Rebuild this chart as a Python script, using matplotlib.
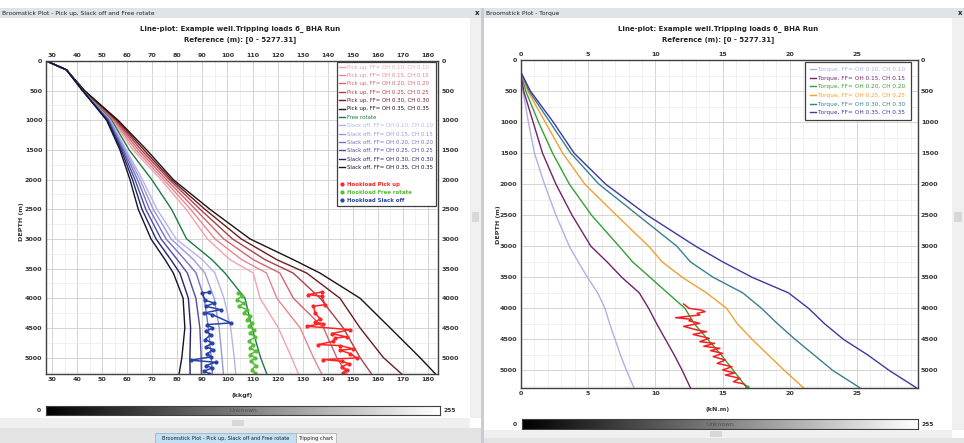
import matplotlib
matplotlib.use('Agg')
import matplotlib.pyplot as plt
import numpy as np
from matplotlib.patches import Rectangle
from matplotlib.lines import Line2D
from matplotlib.ticker import MultipleLocator

# ---------------- data ----------------
depth_model = [0, 150, 500, 1000, 1500, 2000, 2500, 3000, 3350, 3575, 4000, 4500, 5000, 5277]

pickup_010 = [27.8, 35.8, 42.5, 54.2, 62.3, 73.5, 83.5, 92.0, 101.0, 110.3, 113.0, 120.3, 125.6, 128.3]
pickup_015 = [27.8, 35.8, 42.6, 54.6, 63.4, 74.6, 85.3, 95.0, 105.7, 115.6, 119.7, 129.0, 134.3, 137.6]
pickup_020 = [27.8, 35.8, 42.7, 55.0, 64.5, 75.7, 87.2, 98.5, 110.3, 120.9, 126.3, 138.3, 143.6, 147.6]
pickup_025 = [27.8, 35.8, 42.8, 55.5, 65.6, 76.8, 89.1, 102.0, 115.0, 126.2, 137.0, 146.2, 152.9, 157.5]
pickup_030 = [27.8, 35.8, 42.9, 56.0, 66.7, 77.6, 91.0, 105.5, 119.7, 131.6, 144.9, 152.9, 162.2, 169.5]
pickup_035 = [27.8, 35.8, 43.0, 56.4, 67.8, 78.4, 93.0, 109.0, 126.3, 136.9, 152.9, 164.9, 176.8, 183.0]

free_rotate = [27.8, 35.8, 42.3, 53.8, 60.8, 69.8, 77.7, 83.7, 93.8, 99.0, 107.0, 109.8, 113.2, 115.7]

slack_010 = [27.8, 35.8, 42.2, 53.3, 59.6, 66.1, 71.9, 79.5, 90.0, 95.0, 98.6, 101.3, 102.7, 103.3]
slack_015 = [27.8, 35.8, 42.2, 53.0, 59.1, 65.1, 70.4, 77.5, 86.5, 91.0, 94.7, 96.7, 97.8, 98.4]
slack_020 = [27.8, 35.8, 42.2, 52.7, 58.6, 64.1, 68.9, 75.5, 83.0, 87.5, 90.7, 92.4, 93.5, 94.0]
slack_025 = [27.8, 35.8, 42.2, 52.4, 58.1, 63.1, 67.4, 73.5, 80.0, 84.0, 87.4, 89.0, 89.5, 89.6]
slack_030 = [27.8, 35.8, 42.2, 52.1, 57.6, 62.1, 65.9, 71.5, 77.4, 81.0, 84.4, 85.3, 85.0, 85.1]
slack_035 = [27.8, 35.8, 42.2, 51.8, 57.1, 61.1, 64.4, 69.5, 75.1, 78.4, 82.3, 83.0, 81.8, 80.7]

hl_pickup_depth = [3894, 3939, 3967, 4108, 4136, 4248, 4349, 4405, 4427, 4472, 4529, 4596, 4652, 4669,
                   4725, 4781, 4798, 4854, 4876, 4933, 5006, 5034, 5062, 5101, 5157, 5202, 5258]
hl_pickup = [137.6, 132.3, 137.6, 138.9, 134.3, 135.0, 136.9, 135.0, 138.0, 131.6, 148.9, 141.6, 147.6, 142.9,
             142.3, 136.3, 144.9, 150.2, 144.9, 148.9, 151.6, 138.3, 145.6, 148.3, 145.6, 147.6, 146.0]

hl_free_depth = [3911, 3967, 4023, 4080, 4136, 4192, 4248, 4304, 4360, 4416, 4472, 4529, 4585, 4652,
                 4725, 4781, 4837, 4893, 4949, 5006, 5062, 5135, 5202, 5258]
hl_free = [104.4, 105.7, 103.7, 106.4, 104.8, 107.7, 106.4, 109.0, 107.7, 109.7, 108.4, 110.6, 109.0, 111.0,
           108.4, 110.3, 109.0, 111.4, 109.0, 111.0, 109.3, 111.4, 109.7, 111.0]

hl_slack_depth = [3900, 3911, 4035, 4080, 4136, 4192, 4248, 4276, 4416, 4444, 4500, 4557, 4613, 4697,
                  4753, 4820, 4865, 4933, 4989, 5045, 5079, 5135, 5174, 5230, 5269]
hl_slack = [92.7, 89.8, 91.1, 94.7, 91.4, 97.3, 90.7, 94.0, 101.3, 92.0, 94.0, 91.4, 93.3, 91.1,
            94.0, 91.4, 94.3, 92.0, 93.3, 85.4, 95.3, 91.4, 94.0, 90.7, 92.7]

depth_torque = [200, 500, 1000, 1500, 2000, 2500, 3000, 3250, 3500, 3750, 4000, 4250, 4500, 4750, 5000, 5277]
torque_010 = [0.0, 0.15, 0.55, 1.0, 1.75, 2.6, 3.6, 4.25, 4.95, 5.7, 6.25, 6.6, 7.0, 7.4, 7.85, 8.4]
torque_015 = [0.0, 0.2, 0.9, 1.6, 2.6, 3.8, 5.2, 6.4, 7.5, 8.8, 9.5, 10.1, 10.75, 11.4, 12.0, 12.6]
torque_020 = [0.0, 0.35, 1.3, 2.35, 3.6, 5.25, 7.3, 8.3, 9.6, 10.9, 12.2, 12.9, 13.9, 14.9, 15.8, 16.8]
torque_025 = [0.0, 0.5, 1.8, 3.1, 4.75, 7.1, 9.5, 10.5, 12.0, 13.8, 15.3, 16.1, 17.2, 18.4, 19.6, 21.0]
torque_030 = [0.0, 0.6, 2.15, 3.7, 5.8, 8.7, 11.6, 12.6, 14.3, 16.5, 17.9, 19.1, 20.4, 21.8, 23.2, 25.2]
torque_035 = [0.0, 0.7, 2.4, 3.95, 6.3, 9.4, 13.0, 15.0, 17.2, 19.9, 21.4, 22.6, 24.0, 25.8, 27.4, 29.4]

torque_meas_depth = [3930, 3999, 4026, 4053, 4080, 4107, 4150, 4176, 4200, 4241, 4290, 4348, 4375, 4420,
                     4482, 4536, 4563, 4610, 4644, 4680, 4724, 4778, 4831, 4885, 4939, 4992, 5040, 5073,
                     5127, 5180, 5218, 5261]
torque_meas = [12.1, 12.5, 13.4, 13.7, 13.1, 13.3, 11.5, 12.7, 12.5, 13.3, 12.1, 13.1, 13.8, 12.8,
               14.0, 13.3, 14.4, 13.6, 14.8, 14.1, 15.0, 14.3, 15.2, 14.6, 15.7, 15.0, 15.9, 15.2,
               16.3, 15.8, 16.6, 16.8]

ff_labels = ['0.10', '0.15', '0.20', '0.25', '0.30', '0.35']
pickup_colors = ['#f2a3ab', '#e6868f', '#d26470', '#a8404c', '#6e1c1c', '#1e1212']
slack_colors = ['#b4b4ec', '#9898dc', '#7474c4', '#4c4ca4', '#24246e', '#14142a']
free_color = '#1e7a44'
torque_colors = ['#b4ace4', '#74206e', '#34a034', '#f2a030', '#3a8090', '#3a3aa2']

title1 = 'Line-plot: Example well.Tripping loads 6_ BHA Run'
title2 = 'Reference (m): [0 - 5277.31]'

# ---------------- figure ----------------
W, H = 964, 443
fig = plt.figure(figsize=(W / 100, H / 100), dpi=100)
fig.patch.set_facecolor('white')


def fx(x):
    return x / W


def fy(y):
    return 1 - y / H


def rect(x0, y0, x1, y1, fc, ec='none', lw=0, z=0):
    fig.patches.append(Rectangle((fx(x0), fy(y1)), (x1 - x0) / W, (y1 - y0) / H,
                                 transform=fig.transFigure, facecolor=fc, edgecolor=ec,
                                 linewidth=lw, zorder=z))


def ftext(x, y, s, **kw):
    fig.text(fx(x), fy(y), s, **kw)


def axes_px(x0, y0, x1, y1):
    return fig.add_axes([fx(x0), fy(y1), (x1 - x0) / W, (y1 - y0) / H])


# window chrome
rect(0, 8, 481, 18, '#dfe3ea')
rect(484, 8, 964, 18, '#dfe3ea')
rect(481, 8, 484, 443, '#c9ccd2')
ftext(2, 13, 'Broomstick Plot - Pick up, Slack off and Free rotate', fontsize=4.3, va='center', color='#202020')
ftext(486, 13, 'Broomstick Plot - Torque', fontsize=4.3, va='center', color='#202020')
ftext(477, 13, 'x', fontsize=5, va='center', ha='center', color='#202020', weight='bold')
ftext(960, 13, 'x', fontsize=5, va='center', ha='center', color='#202020', weight='bold')
rect(470, 18, 481, 418, '#f0f0f0')
rect(952, 18, 964, 430, '#f0f0f0')
rect(472, 212, 479, 222, '#d8d8d8')
rect(954, 212, 962, 222, '#d8d8d8')
rect(0, 418, 470, 428, '#f0f0f0')
rect(484, 430, 952, 438, '#f0f0f0')
rect(232, 420, 244, 426, '#d8d8d8')
rect(710, 431, 722, 437, '#d8d8d8')
rect(0, 428, 481, 443, '#e4e4e4')
rect(484, 438, 964, 443, '#e4e4e4')
rect(155, 433, 296, 443, '#bfe0f5', ec='#9ab', lw=0.5)
rect(296, 433, 336, 443, '#f6f6f6', ec='#aaa', lw=0.5)
ftext(225.5, 438.5, 'Broomstick Plot - Pick up, Slack off and Free rotate', fontsize=3.6, ha='center', va='center', color='#202020')
ftext(316, 438.5, 'Tripping chart', fontsize=3.6, ha='center', va='center', color='#202020')

for cx in (240, 718):
    ftext(cx, 29, title1, fontsize=5.0, weight='bold', ha='center', va='center', color='#222222')
    ftext(cx, 39.5, title2, fontsize=5.0, weight='bold', ha='center', va='center', color='#222222')

tick_kw = dict(labelsize=4.6, colors='#333333', length=0, pad=2.5)


def style_axes(ax, xmajor, xminor, ymajor, yminor):
    ax.xaxis.set_major_locator(MultipleLocator(xmajor))
    ax.xaxis.set_minor_locator(MultipleLocator(xminor))
    ax.yaxis.set_major_locator(MultipleLocator(ymajor))
    ax.yaxis.set_minor_locator(MultipleLocator(yminor))
    ax.grid(which='major', color='#d4d4d4', lw=0.7)
    ax.grid(which='minor', color='#ececec', lw=0.5)
    ax.set_axisbelow(True)
    ax.tick_params(which='both', top=True, bottom=True, left=True, right=True,
                   labeltop=True, labelbottom=True, labelleft=True, labelright=True, **tick_kw)
    ax.tick_params(which='minor', length=0)
    for sp in ax.spines.values():
        sp.set_color('#404040')
        sp.set_linewidth(1.0)


# ---------------- left panel ----------------
ax1 = axes_px(46, 61, 438, 374)
pick_series = [pickup_010, pickup_015, pickup_020, pickup_025, pickup_030, pickup_035]
slack_series = [slack_010, slack_015, slack_020, slack_025, slack_030, slack_035]
handles, labels = [], []
for s, c, f in zip(pick_series, pickup_colors, ff_labels):
    h, = ax1.plot(s, depth_model, color=c, lw=1.0)
    handles.append(h); labels.append(f'Pick up, FF= OH {f}, CH {f}')
h, = ax1.plot(free_rotate, depth_model, color=free_color, lw=1.0)
handles.append(h); labels.append('Free rotate')
for s, c, f in zip(slack_series, slack_colors, ff_labels):
    h, = ax1.plot(s, depth_model, color=c, lw=1.0)
    handles.append(h); labels.append(f'Slack off, FF= OH {f}, CH {f}')
handles.append(Line2D([], [], color='none')); labels.append(' ')
ax1.plot(hl_pickup, hl_pickup_depth, color='#ff2424', lw=1.1, marker='o', ms=2.0)
handles.append(Line2D([], [], color='#ff2424', marker='o', ms=2.0, ls='none')); labels.append('Hookload Pick up')
ax1.plot(hl_free, hl_free_depth, color='#55c035', lw=1.1, marker='o', ms=2.0)
handles.append(Line2D([], [], color='#55c035', marker='o', ms=2.0, ls='none')); labels.append('Hookload Free rotate')
ax1.plot(hl_slack, hl_slack_depth, color='#2844a4', lw=1.1, marker='o', ms=2.0)
handles.append(Line2D([], [], color='#2844a4', marker='o', ms=2.0, ls='none')); labels.append('Hookload Slack off')

ax1.set_xlim(27.6, 184.0)
ax1.set_ylim(5277.31, 0)
style_axes(ax1, 10, 5, 500, 250)
ax1.set_xticks(np.arange(30, 181, 10))
ax1.set_yticks(np.arange(0, 5001, 500))
for lab in ax1.get_xticklabels() + ax1.get_yticklabels():
    lab.set_fontweight('bold')
text_colors1 = pickup_colors + [free_color] + slack_colors + ['white', '#ff2424', '#55c035', '#2844a4']
leg1 = ax1.legend(handles, labels, loc='upper right', bbox_to_anchor=(0.995, 0.997), borderaxespad=0,
                  fontsize=3.9, frameon=True, fancybox=False, edgecolor='#404040', framealpha=1,
                  handlelength=1.0, handletextpad=0.4, labelspacing=0.62, borderpad=0.5)
leg1.get_frame().set_linewidth(0.9)
for t, c in zip(leg1.get_texts(), text_colors1):
    t.set_color(c)
for t in leg1.get_texts()[-3:]:
    t.set_fontweight('bold')

ftext(22, 222, 'DEPTH (m)', fontsize=4.6, rotation=90, ha='center', va='center', color='#333333', weight='bold')
ftext(242, 396, '(kkgf)', fontsize=4.6, ha='center', va='center', color='#333333', weight='bold')

cb1 = axes_px(46, 406, 440, 415)
cb1.imshow(np.linspace(0, 1, 256)[None, :], cmap='gray', aspect='auto', extent=[0, 255, 0, 1])
cb1.set_xticks([]); cb1.set_yticks([])
for sp in cb1.spines.values():
    sp.set_color('#404040'); sp.set_linewidth(0.8)
cb1.text(0.5, 0.5, 'Unknown', transform=cb1.transAxes, ha='center', va='center', fontsize=4.3, color='#505050')
ftext(41, 410.5, '0', fontsize=4.3, ha='right', va='center', color='#333333', weight='bold')
ftext(443, 410.5, '255', fontsize=4.3, ha='left', va='center', color='#333333', weight='bold')

# ---------------- right panel ----------------
ax2 = axes_px(521, 60, 917.5, 387.7)
tq_series = [torque_010, torque_015, torque_020, torque_025, torque_030, torque_035]
handles2, labels2 = [], []
for s, c, f in zip(tq_series, torque_colors, ff_labels):
    h, = ax2.plot(s, depth_torque, color=c, lw=1.0)
    handles2.append(h); labels2.append(f'Torque, FF= OH {f}, CH {f}')
ax2.plot(torque_meas, torque_meas_depth, color='#ee2222', lw=1.1)
ax2.plot([torque_meas[-1]], [torque_meas_depth[-1]], color='#34a034', marker='o', ms=2.0, ls='none')
ax2.set_xlim(0, 29.5)
ax2.set_ylim(5277.31, 0)
style_axes(ax2, 5, 1, 500, 250)
ax2.set_xticks(np.arange(0, 26, 5))
ax2.set_yticks(np.arange(0, 5001, 500))
for lab in ax2.get_xticklabels() + ax2.get_yticklabels():
    lab.set_fontweight('bold')
leg2 = ax2.legend(handles2, labels2, loc='upper right', bbox_to_anchor=(0.983, 0.994), borderaxespad=0,
                  fontsize=4.15, frameon=True, fancybox=False, edgecolor='#404040', framealpha=1,
                  handlelength=1.0, handletextpad=0.4, labelspacing=0.62, borderpad=0.9)
leg2.get_frame().set_linewidth(0.9)
for t, c in zip(leg2.get_texts(), torque_colors):
    t.set_color(c)

ftext(498, 225, 'DEPTH (m)', fontsize=4.6, rotation=90, ha='center', va='center', color='#333333', weight='bold')
ftext(718, 409, '(kN.m)', fontsize=4.6, ha='center', va='center', color='#333333', weight='bold')

cb2 = axes_px(522, 419, 918, 429)
cb2.imshow(np.linspace(0, 1, 256)[None, :], cmap='gray', aspect='auto', extent=[0, 255, 0, 1])
cb2.set_xticks([]); cb2.set_yticks([])
for sp in cb2.spines.values():
    sp.set_color('#404040'); sp.set_linewidth(0.8)
cb2.text(0.5, 0.5, 'Unknown', transform=cb2.transAxes, ha='center', va='center', fontsize=4.3, color='#505050')
ftext(517, 424, '0', fontsize=4.3, ha='right', va='center', color='#333333', weight='bold')
ftext(921, 424, '255', fontsize=4.3, ha='left', va='center', color='#333333', weight='bold')

fig.savefig('out.png', dpi=100)
